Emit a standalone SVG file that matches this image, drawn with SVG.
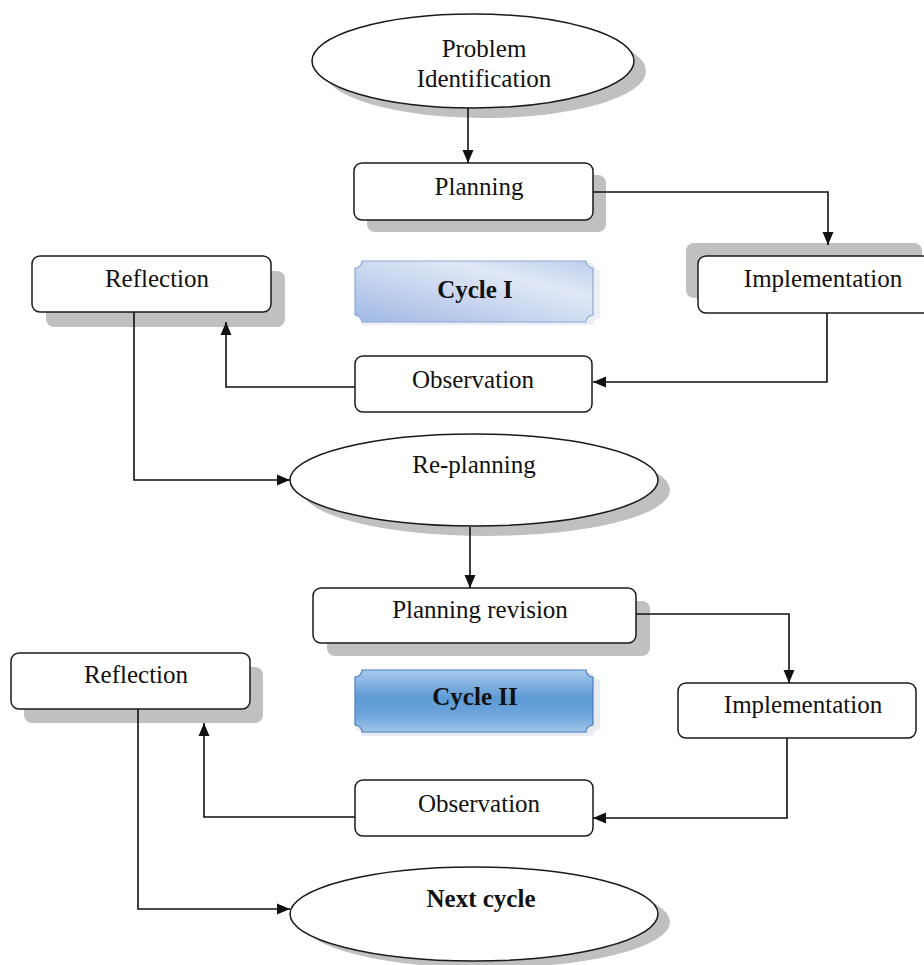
<svg xmlns="http://www.w3.org/2000/svg" width="924" height="965" viewBox="0 0 924 965">
<style>
  .box { fill: #ffffff; stroke: #1a1a1a; stroke-width: 1.5; }
  .shadow { fill: #c0c0c0; stroke: none; }
  .lbl { font-family: "Liberation Serif", "Times New Roman", serif; font-size: 25px; fill: #111111; text-anchor: middle; }
  .bold { font-weight: bold; }
  .conn { fill: none; stroke: #111111; stroke-width: 1.6; marker-end: url(#arr); }
</style>
<defs>
  <marker id="arr" markerUnits="userSpaceOnUse" markerWidth="14" markerHeight="14" viewBox="0 0 14 14" refX="13" refY="7" orient="auto">
    <path d="M0,1.5 L13,7 L0,12.5 Z" fill="#111111"/>
  </marker>
  <linearGradient id="g1" x1="0" y1="1" x2="1" y2="0">
    <stop offset="0" stop-color="#9fb8e4"/>
    <stop offset="0.45" stop-color="#cbd8f0"/>
    <stop offset="0.7" stop-color="#e1e8f6"/>
    <stop offset="1" stop-color="#bccdec"/>
  </linearGradient>
  <linearGradient id="g2" x1="0" y1="0" x2="0" y2="1">
    <stop offset="0" stop-color="#a9cbec"/>
    <stop offset="0.45" stop-color="#5d9ad6"/>
    <stop offset="0.75" stop-color="#6fa6dc"/>
    <stop offset="1" stop-color="#a3c5e9"/>
  </linearGradient>
</defs>

<g id="problem-identification">
  <ellipse class="shadow" cx="485" cy="71" rx="161" ry="47"/>
  <ellipse class="box" cx="473" cy="61" rx="161" ry="47"/>
  <text class="lbl" x="484" y="57">Problem</text>
  <text class="lbl" x="484" y="87">Identification</text>
</g>

<g id="planning">
  <rect class="shadow" x="367" y="175" width="239" height="57" rx="8"/>
  <rect class="box" x="354" y="163" width="239" height="57" rx="8"/>
  <text class="lbl" x="479" y="195">Planning</text>
</g>

<g id="implementation-1">
  <rect class="shadow" x="686" y="243" width="236" height="55" rx="8"/>
  <rect class="box" x="698" y="256" width="236" height="57" rx="8"/>
  <text class="lbl" x="823" y="287">Implementation</text>
</g>

<g id="reflection-1">
  <rect class="shadow" x="46" y="271" width="239" height="56" rx="8"/>
  <rect class="box" x="32" y="256" width="239" height="56" rx="8"/>
  <text class="lbl" x="157" y="287">Reflection</text>
</g>

<g id="cycle-1">
  <path d="M362,263 H593 A7,7 0 0 0 600,270 V318 A7,7 0 0 0 593,325 H362 A7,7 0 0 0 355,318 V270 A7,7 0 0 0 362,263 Z" fill="#dfe5ef" opacity="0.6"/>
  <path d="M362,261 H586 A7,7 0 0 0 593,268 V315 A7,7 0 0 0 586,322 H362 A7,7 0 0 0 355,315 V268 A7,7 0 0 0 362,261 Z" fill="url(#g1)" stroke="#8ea9d8" stroke-width="1.2"/>
  <text class="lbl bold" x="475" y="298">Cycle I</text>
</g>

<g id="observation-1">
  <rect class="box" x="355" y="356" width="237" height="56" rx="8"/>
  <text class="lbl" x="473" y="388">Observation</text>
</g>

<g id="re-planning">
  <ellipse class="shadow" cx="486" cy="490" rx="184" ry="46"/>
  <ellipse class="box" cx="474" cy="480" rx="184" ry="46"/>
  <text class="lbl" x="474" y="473">Re-planning</text>
</g>

<g id="planning-revision">
  <rect class="shadow" x="327" y="601" width="323" height="55" rx="8"/>
  <rect class="box" x="313" y="588" width="323" height="55" rx="8"/>
  <text class="lbl" x="480" y="618">Planning revision</text>
</g>

<g id="implementation-2">
  <rect class="box" x="678" y="683" width="238" height="55" rx="8"/>
  <text class="lbl" x="803" y="713">Implementation</text>
</g>

<g id="reflection-2">
  <rect class="shadow" x="24" y="667" width="239" height="56" rx="8"/>
  <rect class="box" x="11" y="653" width="239" height="56" rx="8"/>
  <text class="lbl" x="136" y="683">Reflection</text>
</g>

<g id="cycle-2">
  <path d="M362,673 H593 A7,7 0 0 0 600,680 V729 A7,7 0 0 0 593,736 H362 A7,7 0 0 0 355,729 V680 A7,7 0 0 0 362,673 Z" fill="#d9e0ea" opacity="0.6"/>
  <path d="M362,670 H586 A7,7 0 0 0 593,677 V725 A7,7 0 0 0 586,732 H362 A7,7 0 0 0 355,725 V677 A7,7 0 0 0 362,670 Z" fill="url(#g2)" stroke="#4a7fc0" stroke-width="1.2"/>
  <text class="lbl bold" x="475" y="705">Cycle II</text>
</g>

<g id="observation-2">
  <rect class="box" x="355" y="780" width="238" height="56" rx="8"/>
  <text class="lbl" x="479" y="812">Observation</text>
</g>

<g id="next-cycle">
  <ellipse class="shadow" cx="486" cy="922" rx="184" ry="46"/>
  <ellipse class="box" cx="474" cy="914" rx="184" ry="47"/>
  <text class="lbl bold" x="481" y="907">Next cycle</text>
</g>

<g id="connectors">
  <path class="conn" d="M468,108 V163"/>
  <path class="conn" d="M593,192 H828 V245"/>
  <path class="conn" d="M827,313 V382 H593"/>
  <path class="conn" d="M355,387 H226 V322"/>
  <path class="conn" d="M134,312 V480 H290"/>
  <path class="conn" d="M470,527 V588"/>
  <path class="conn" d="M636,614 H789 V683"/>
  <path class="conn" d="M787,738 V818 H593"/>
  <path class="conn" d="M355,817 H204 V723"/>
  <path class="conn" d="M138,709 V909 H290"/>
</g>
</svg>
